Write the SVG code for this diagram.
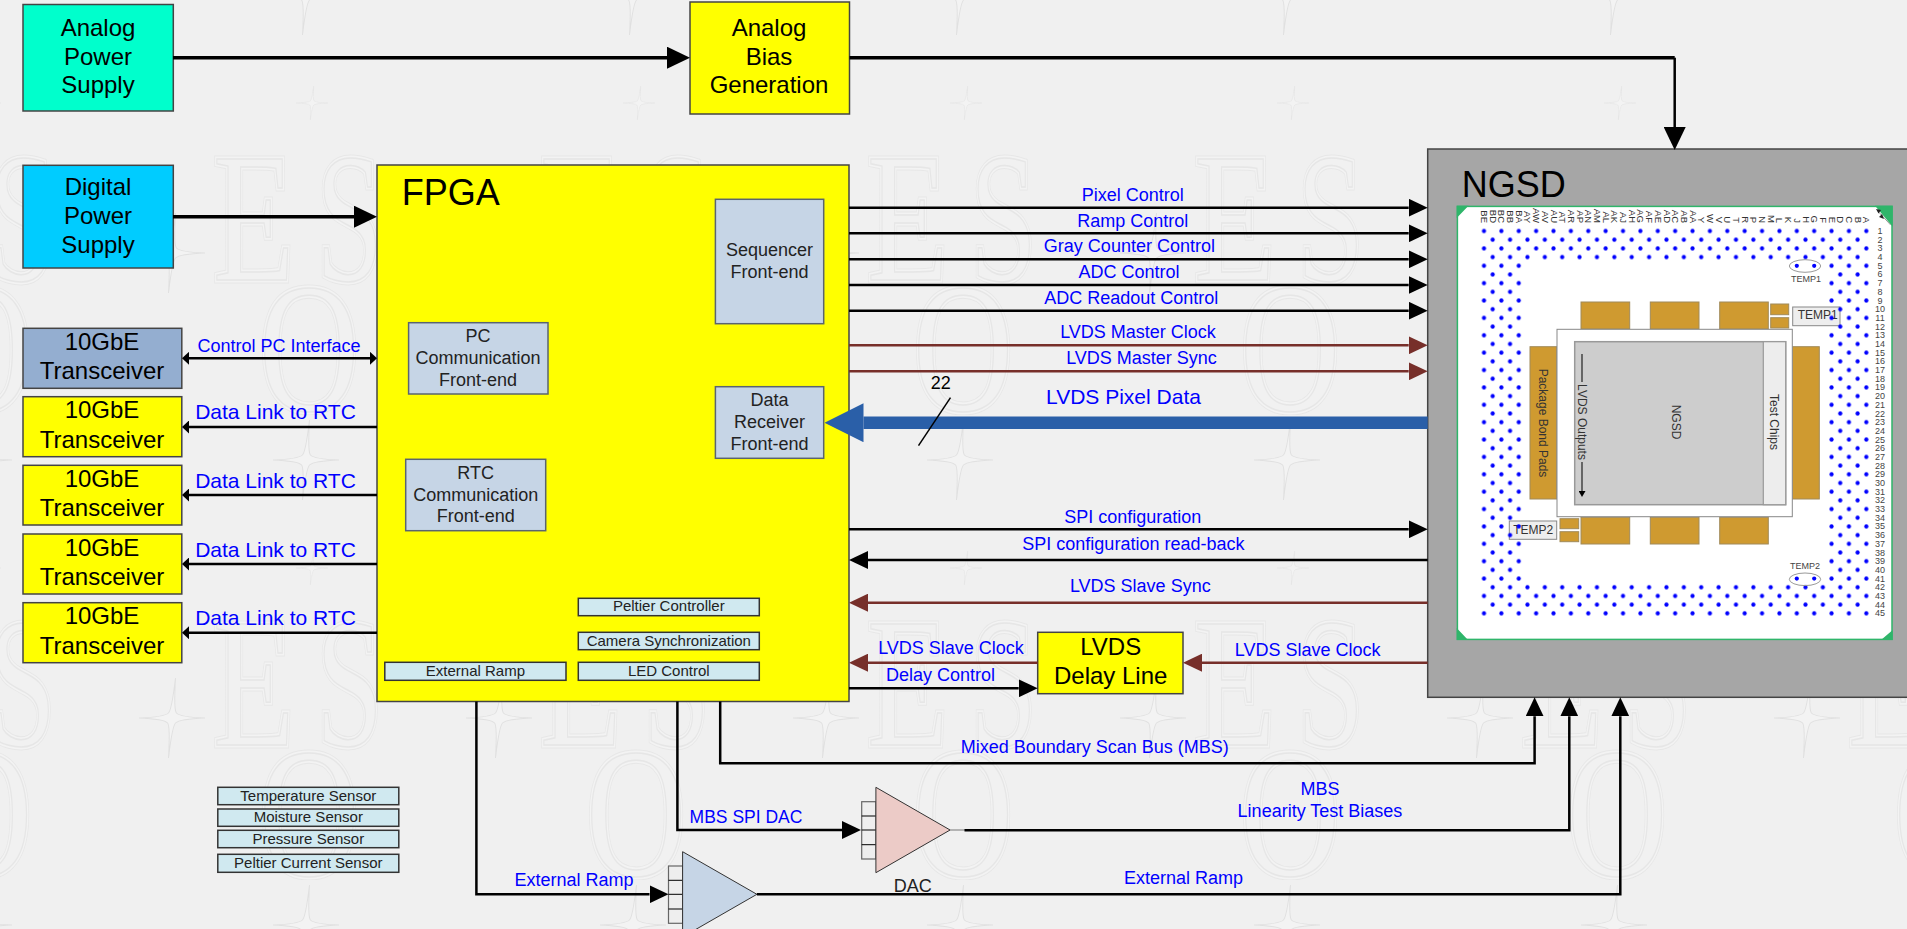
<svg xmlns="http://www.w3.org/2000/svg" width="1907" height="929" viewBox="0 0 1907 929">
<style>
text{font-family:"Liberation Sans",Arial,sans-serif;text-anchor:middle;fill:#000}
.t24{font-size:24px}.t18{font-size:18px;fill:#222}.t15{font-size:15px;fill:#222}.t36{font-size:36px;text-anchor:start}
.lb{font-size:18px;fill:#0000ff}.l21{font-size:21px;fill:#0000ff}
.box{stroke:#444;stroke-width:1.5}
.fe{fill:#c6d5e6;stroke:#5a6470;stroke-width:1.5}
.sm{fill:#d0e9f0;stroke:#333;stroke-width:1.5}
.c{fill:none;stroke:#000;stroke-width:2.5}
.p{fill:none;stroke:#000;stroke-width:3.5}
.br{fill:none;stroke:#772f2a;stroke-width:2.5}
.pad{fill:#cf9a30;stroke:#a08a5a;stroke-width:1}
.pl{font-size:9.5px;fill:#333;text-anchor:end}
.rn{font-size:9px;fill:#444}
.ch{font-size:12px;fill:#333}
.tmp{fill:#eee;stroke:#888;stroke-width:1}
.st{fill:#eee;stroke:#666;stroke-width:1.2}
.wmt{font-family:"Liberation Serif",serif;font-size:185px;text-anchor:start;fill:inherit}
</style>
<defs>
<marker id="ah" markerUnits="userSpaceOnUse" markerWidth="19" markerHeight="18" refX="0" refY="9" orient="auto-start-reverse"><path d="M0 0L19 9L0 18Z" fill="#000"/></marker>
<marker id="ahb" markerUnits="userSpaceOnUse" markerWidth="19" markerHeight="18" refX="0" refY="9" orient="auto-start-reverse"><path d="M0 0L19 9L0 18Z" fill="#772f2a"/></marker>
<marker id="ahs" markerUnits="userSpaceOnUse" markerWidth="7" markerHeight="13" refX="0" refY="6.5" orient="auto-start-reverse"><path d="M0 0L7 6.5L0 13Z" fill="#000"/></marker>
<marker id="ahl" markerUnits="userSpaceOnUse" markerWidth="23" markerHeight="22" refX="0" refY="11" orient="auto-start-reverse"><path d="M0 0L23 11L0 22Z" fill="#000"/></marker>
<marker id="ahx" markerUnits="userSpaceOnUse" markerWidth="39" markerHeight="39" refX="0" refY="19.5" orient="auto-start-reverse"><path d="M0 0L39 19.5L0 39Z" fill="#2a5fa8"/></marker>
<marker id="aht" markerUnits="userSpaceOnUse" markerWidth="6" markerHeight="7" refX="0" refY="3.5" orient="auto-start-reverse"><path d="M0 0L6 3.5L0 7Z" fill="#000"/></marker>
<g id="wmt">
<text class="wmt" transform="translate(213 280) scale(.72 1)">E</text>
<text class="wmt" transform="translate(316 280) scale(.65 1)">S</text>
<text class="wmt" transform="translate(259 410) scale(.75 1)">O</text>
</g>
<path id="star" d="M0-40Q1-8 4-5Q8-1 33 0Q8 1 4 5Q1 8 0 40Q-1 8-4 5Q-8 1-33 0Q-8-1-4-5Q-1-8 0-40Z"/>
<pattern id="wm" patternUnits="userSpaceOnUse" x="130" y="-50" width="327" height="465">
<g transform="translate(-130 50)">
<g fill="none" stroke="#e7e7e7" stroke-width="7"><use href="#wmt"/></g>
<g fill="none" stroke="#f3f3f3" stroke-width="5"><use href="#wmt"/></g>
<g fill="#f1f1f1" stroke="#e6e6e6" stroke-width="1.5"><use href="#wmt"/></g>
<g fill="#f3f3f3" stroke="#e0e0e0" stroke-width="1">
<use href="#star" transform="translate(306 -5) skewX(-5)"/>
<use href="#star" transform="translate(172 253) skewX(-5)"/>
<use href="#star" transform="translate(312 103) scale(.48 .42) skewX(-5)"/>
</g>
</g>
</pattern>
<pattern id="dots" patternUnits="userSpaceOnUse" x="1479.655" y="226.656" width="17.378" height="17.378">
<circle cx="4.344" cy="4.344" r="2.1" fill="#0000ff"/>
<circle cx="13.033" cy="13.033" r="2.1" fill="#0000ff"/>
</pattern>
</defs>

<rect width="1907" height="929" fill="#f0f0f0"/>
<rect id="watermark" width="1907" height="929" fill="url(#wm)"/>

<g id="analog-power-supply">
<rect class="box" x="23" y="4.5" width="150.3" height="106.5" fill="#00ffcc"/>
<text class="t24" x="98" y="36">Analog</text><text class="t24" x="98" y="64.7">Power</text><text class="t24" x="98" y="93.3">Supply</text>
</g>
<g id="digital-power-supply">
<rect class="box" x="23" y="165.3" width="150.3" height="102.7" fill="#00ccff"/>
<text class="t24" x="98" y="195">Digital</text><text class="t24" x="98" y="224">Power</text><text class="t24" x="98" y="253">Supply</text>
</g>
<g id="analog-bias-generation">
<rect class="box" x="690" y="2" width="159.5" height="112" fill="#ffff00"/>
<text class="t24" x="769" y="36">Analog</text><text class="t24" x="769" y="64.7">Bias</text><text class="t24" x="769" y="93.3">Generation</text>
</g>

<g id="fpga">
<rect class="box" x="377" y="165" width="472" height="536.5" fill="#ffff00"/>
<text class="t36" x="401.7" y="205">FPGA</text>
</g>
<g id="sequencer-front-end">
<rect class="fe" x="715.4" y="199.3" width="108.3" height="124.4"/>
<text class="t18" x="769.5" y="256">Sequencer</text><text class="t18" x="769.5" y="277.7">Front-end</text>
</g>
<g id="data-receiver-front-end">
<rect class="fe" x="715.4" y="386.7" width="108.3" height="71.6"/>
<text class="t18" x="769.5" y="406">Data</text><text class="t18" x="769.5" y="428.3">Receiver</text><text class="t18" x="769.5" y="450">Front-end</text>
</g>
<g id="pc-communication-front-end">
<rect class="fe" x="408.6" y="322.7" width="139.4" height="71.3"/>
<text class="t18" x="478" y="342">PC</text><text class="t18" x="478" y="364">Communication</text><text class="t18" x="478" y="386">Front-end</text>
</g>
<g id="rtc-communication-front-end">
<rect class="fe" x="405.7" y="459.3" width="140" height="71.4"/>
<text class="t18" x="475.7" y="479.3">RTC</text><text class="t18" x="475.7" y="501.3">Communication</text><text class="t18" x="475.7" y="522">Front-end</text>
</g>
<g id="peltier-controller"><rect class="sm" x="578.3" y="598.3" width="181" height="17.4"/><text class="t15" x="668.8" y="610.5">Peltier Controller</text></g>
<g id="camera-synchronization"><rect class="sm" x="578.3" y="632.3" width="181" height="17.4"/><text class="t15" x="668.8" y="645.5">Camera Synchronization</text></g>
<g id="led-control"><rect class="sm" x="578.3" y="662.3" width="181" height="18"/><text class="t15" x="668.8" y="675.5">LED Control</text></g>
<g id="external-ramp-block"><rect class="sm" x="384.8" y="662.3" width="181.2" height="18"/><text class="t15" x="475.4" y="675.5">External Ramp</text></g>

<g id="transceiver-control"><rect class="box" x="23" y="328.3" width="158.8" height="60" fill="#94aed0"/><text class="t24" x="102" y="350">10GbE</text><text class="t24" x="102" y="379">Transceiver</text></g>
<g id="transceiver-1"><rect class="box" x="23" y="396.7" width="158.8" height="60" fill="#ffff00"/><text class="t24" x="102" y="418.3">10GbE</text><text class="t24" x="102" y="447.5">Transceiver</text></g>
<g id="transceiver-2"><rect class="box" x="23" y="465.3" width="158.8" height="59.7" fill="#ffff00"/><text class="t24" x="102" y="486.7">10GbE</text><text class="t24" x="102" y="516">Transceiver</text></g>
<g id="transceiver-3"><rect class="box" x="23" y="534" width="158.8" height="60" fill="#ffff00"/><text class="t24" x="102" y="556">10GbE</text><text class="t24" x="102" y="585">Transceiver</text></g>
<g id="transceiver-4"><rect class="box" x="23" y="602.7" width="158.8" height="60" fill="#ffff00"/><text class="t24" x="102" y="624.3">10GbE</text><text class="t24" x="102" y="653.5">Transceiver</text></g>

<g id="temperature-sensor"><rect class="sm" x="217.8" y="787.3" width="181" height="17.4"/><text class="t15" x="308.3" y="800.7">Temperature Sensor</text></g>
<g id="moisture-sensor"><rect class="sm" x="217.8" y="809" width="181" height="17.3"/><text class="t15" x="308.3" y="822">Moisture Sensor</text></g>
<g id="pressure-sensor"><rect class="sm" x="217.8" y="830.3" width="181" height="17.4"/><text class="t15" x="308.3" y="843.7">Pressure Sensor</text></g>
<g id="peltier-current-sensor"><rect class="sm" x="217.8" y="854.3" width="181" height="18"/><text class="t15" x="308.3" y="868">Peltier Current Sensor</text></g>

<g id="lvds-delay-line">
<rect class="box" x="1037.7" y="632.3" width="145.3" height="61.4" fill="#ffff00"/>
<text class="t24" x="1110.7" y="655.3">LVDS</text><text class="t24" x="1110.7" y="684">Delay Line</text>
</g>

<g id="dac">
<rect class="st" x="861.7" y="801.7" width="14.2" height="57.3"/>
<path d="M861.7 816H875.9M861.7 830H875.9M861.7 844.7H875.9" stroke="#000" stroke-width="1" fill="none"/>
<path d="M875.9 787.3V872.7L950.1 830Z" fill="#eccbc7" stroke="#333" stroke-width="1"/>
<text class="t18" x="912.8" y="892.3">DAC</text>
</g>
<g id="ramp-dac">
<rect class="st" x="668.5" y="866" width="14.1" height="57.3"/>
<path d="M668.5 880.3H682.6M668.5 894.3H682.6M668.5 909H682.6" stroke="#000" stroke-width="1" fill="none"/>
<path d="M682.6 851.7V937L756.9 894.3Z" fill="#c6d5e6" stroke="#333" stroke-width="1"/>
</g>

<g id="ngsd">
<rect x="1427.7" y="149" width="490" height="548.3" fill="#a6a6a6" stroke="#444" stroke-width="1.5"/>
<text class="t36" x="1461.7" y="196.7">NGSD</text>
<rect x="1457.4" y="206.4" width="434.6" height="433" fill="#fff" stroke="#2fb56a" stroke-width="1.5"/>
<path d="M1456.7 205.7H1468.5L1456.7 218ZM1875 205.7H1892.7V226.7ZM1456.7 640V628L1468 640ZM1892.7 640H1881L1892.7 630Z" fill="#2fb56a"/>
<path d="M1878.3 211.7L1890.7 225" stroke="#999" stroke-width="1" fill="none"/>
<path d="M1876 209L1881 210L1878.5 213.5ZM1884 219L1879 217L1882 214Z" fill="#222"/>
<g id="package">
<rect class="pad" x="1581" y="302" width="48.7" height="27"/><rect class="pad" x="1650.3" y="302" width="48.7" height="27"/><rect class="pad" x="1719.7" y="302" width="48.6" height="27"/>
<rect class="pad" x="1770.7" y="304" width="18" height="10.7"/><rect class="pad" x="1770.7" y="317.7" width="18" height="10.3"/>
<rect class="pad" x="1581" y="517.3" width="48.7" height="26.7"/><rect class="pad" x="1650.3" y="517.3" width="48.7" height="26.7"/><rect class="pad" x="1719.7" y="517.3" width="48.6" height="26.7"/>
<rect class="pad" x="1560" y="518.7" width="18.7" height="10"/><rect class="pad" x="1560" y="531.7" width="18.7" height="10"/>
<rect class="pad" x="1530" y="346.7" width="26.7" height="152.3"/><rect class="pad" x="1792.3" y="346.7" width="27" height="152.3"/>
<rect x="1557" y="329.3" width="235.3" height="187.4" fill="#fff" stroke="#888" stroke-width="1"/>
<rect x="1574.7" y="341.7" width="211" height="163" fill="#cdcdcd" stroke="#999" stroke-width="1.5"/>
<rect x="1763.3" y="341.7" width="22.4" height="163" fill="#ededed" stroke="#999" stroke-width="1.2"/>
<path d="M1582 382V354M1582 462V491" fill="none" stroke="#222" stroke-width="1.2" marker-end="url(#aht)"/>
<text class="ch" transform="translate(1539 423) rotate(90)">Package Bond Pads</text>
<text class="ch" transform="translate(1578 422) rotate(90)">LVDS Outputs</text>
<text class="ch" transform="translate(1672 422) rotate(90)">NGSD</text>
<text class="ch" transform="translate(1770 422) rotate(90)">Test Chips</text>
<rect class="tmp" x="1792.7" y="307" width="47.3" height="18.7"/><text class="ch" x="1817.7" y="319">TEMP1</text>
<rect class="tmp" x="1509.3" y="521" width="47.4" height="18.3"/><text class="ch" x="1533.3" y="534">TEMP2</text>
</g>
<g id="balls" fill="url(#dots)">
<rect x="1479.655" y="226.656" width="391" height="34.756"/>
<rect x="1479.655" y="261.412" width="43.4" height="321.5"/>
<rect x="1827.2" y="261.412" width="43.455" height="321.5"/>
<rect x="1479.655" y="582.912" width="391" height="34.8"/>
<g fill="#0000ff"><circle cx="1796.8" cy="265.8" r="2.1"/><circle cx="1814.2" cy="265.8" r="2.1"/><circle cx="1796.8" cy="578.6" r="2.1"/><circle cx="1814.2" cy="578.6" r="2.1"/></g>
</g>
<ellipse cx="1805" cy="266" rx="15.7" ry="6.3" fill="none" stroke="#999" stroke-width="1"/>
<ellipse cx="1805" cy="579.3" rx="15.7" ry="6.3" fill="none" stroke="#999" stroke-width="1"/>
<text class="rn" x="1806" y="282.3">TEMP1</text>
<text class="rn" x="1805" y="569">TEMP2</text>
<g id="col-labels">
<text class="pl" transform="translate(1481 223) rotate(90)">BE</text><text class="pl" transform="translate(1489.7 223) rotate(90)">BD</text><text class="pl" transform="translate(1498.4 223) rotate(90)">BC</text><text class="pl" transform="translate(1507.1 223) rotate(90)">BB</text><text class="pl" transform="translate(1515.8 223) rotate(90)">BA</text>
<text class="pl" transform="translate(1524.4 223) rotate(90)">AY</text><text class="pl" transform="translate(1533.1 223) rotate(90)">AW</text><text class="pl" transform="translate(1541.8 223) rotate(90)">AV</text><text class="pl" transform="translate(1550.5 223) rotate(90)">AU</text><text class="pl" transform="translate(1559.2 223) rotate(90)">AT</text>
<text class="pl" transform="translate(1567.9 223) rotate(90)">AR</text><text class="pl" transform="translate(1576.6 223) rotate(90)">AP</text><text class="pl" transform="translate(1585.3 223) rotate(90)">AN</text><text class="pl" transform="translate(1594 223) rotate(90)">AM</text><text class="pl" transform="translate(1602.6 223) rotate(90)">AL</text>
<text class="pl" transform="translate(1611.3 223) rotate(90)">AK</text><text class="pl" transform="translate(1620 223) rotate(90)">AJ</text><text class="pl" transform="translate(1628.7 223) rotate(90)">AH</text><text class="pl" transform="translate(1637.4 223) rotate(90)">AG</text><text class="pl" transform="translate(1646.1 223) rotate(90)">AF</text>
<text class="pl" transform="translate(1654.8 223) rotate(90)">AE</text><text class="pl" transform="translate(1663.5 223) rotate(90)">AD</text><text class="pl" transform="translate(1672.2 223) rotate(90)">AC</text><text class="pl" transform="translate(1680.8 223) rotate(90)">AB</text><text class="pl" transform="translate(1689.5 223) rotate(90)">AA</text>
<text class="pl" transform="translate(1698.2 223) rotate(90)">Y</text><text class="pl" transform="translate(1706.9 223) rotate(90)">W</text><text class="pl" transform="translate(1715.6 223) rotate(90)">V</text><text class="pl" transform="translate(1724.3 223) rotate(90)">U</text><text class="pl" transform="translate(1733 223) rotate(90)">T</text>
<text class="pl" transform="translate(1741.7 223) rotate(90)">R</text><text class="pl" transform="translate(1750.4 223) rotate(90)">P</text><text class="pl" transform="translate(1759 223) rotate(90)">N</text><text class="pl" transform="translate(1767.7 223) rotate(90)">M</text><text class="pl" transform="translate(1776.4 223) rotate(90)">L</text>
<text class="pl" transform="translate(1785.1 223) rotate(90)">K</text><text class="pl" transform="translate(1793.8 223) rotate(90)">J</text><text class="pl" transform="translate(1802.5 223) rotate(90)">H</text><text class="pl" transform="translate(1811.2 223) rotate(90)">G</text><text class="pl" transform="translate(1819.9 223) rotate(90)">F</text>
<text class="pl" transform="translate(1828.6 223) rotate(90)">E</text><text class="pl" transform="translate(1837.2 223) rotate(90)">D</text><text class="pl" transform="translate(1845.9 223) rotate(90)">C</text><text class="pl" transform="translate(1854.6 223) rotate(90)">B</text><text class="pl" transform="translate(1863.3 223) rotate(90)">A</text>
</g>
<g id="row-labels">
<text class="rn" x="1880" y="234">1</text><text class="rn" x="1880" y="242.7">2</text><text class="rn" x="1880" y="251.4">3</text><text class="rn" x="1880" y="260.1">4</text><text class="rn" x="1880" y="268.8">5</text><text class="rn" x="1880" y="277.4">6</text><text class="rn" x="1880" y="286.1">7</text><text class="rn" x="1880" y="294.8">8</text><text class="rn" x="1880" y="303.5">9</text>
<text class="rn" x="1880" y="312.2">10</text><text class="rn" x="1880" y="320.9">11</text><text class="rn" x="1880" y="329.6">12</text><text class="rn" x="1880" y="338.3">13</text><text class="rn" x="1880" y="347">14</text><text class="rn" x="1880" y="355.6">15</text><text class="rn" x="1880" y="364.3">16</text><text class="rn" x="1880" y="373">17</text><text class="rn" x="1880" y="381.7">18</text>
<text class="rn" x="1880" y="390.4">19</text><text class="rn" x="1880" y="399.1">20</text><text class="rn" x="1880" y="407.8">21</text><text class="rn" x="1880" y="416.5">22</text><text class="rn" x="1880" y="425.2">23</text><text class="rn" x="1880" y="433.8">24</text><text class="rn" x="1880" y="442.5">25</text><text class="rn" x="1880" y="451.2">26</text><text class="rn" x="1880" y="459.9">27</text>
<text class="rn" x="1880" y="468.6">28</text><text class="rn" x="1880" y="477.3">29</text><text class="rn" x="1880" y="486">30</text><text class="rn" x="1880" y="494.7">31</text><text class="rn" x="1880" y="503.4">32</text><text class="rn" x="1880" y="512">33</text><text class="rn" x="1880" y="520.7">34</text><text class="rn" x="1880" y="529.4">35</text><text class="rn" x="1880" y="538.1">36</text>
<text class="rn" x="1880" y="546.8">37</text><text class="rn" x="1880" y="555.5">38</text><text class="rn" x="1880" y="564.2">39</text><text class="rn" x="1880" y="572.9">40</text><text class="rn" x="1880" y="581.6">41</text><text class="rn" x="1880" y="590.2">42</text><text class="rn" x="1880" y="598.9">43</text><text class="rn" x="1880" y="607.6">44</text><text class="rn" x="1880" y="616.3">45</text>
</g>
</g>

<g id="connectors">
<path class="p" d="M173 57.7H667" marker-end="url(#ahl)"/>
<path class="p" d="M849.5 57.7H1674.7"/>
<path class="c" d="M1674.7 57.7V127" marker-end="url(#ahl)"/>
<path class="p" d="M173 216.7H354" marker-end="url(#ahl)"/>
<path class="c" d="M189 358.3H370" marker-start="url(#ahs)" marker-end="url(#ahs)"/>
<path class="c" d="M377 427H189" marker-end="url(#ahs)"/>
<path class="c" d="M377 495H189" marker-end="url(#ahs)"/>
<path class="c" d="M377 564H189" marker-end="url(#ahs)"/>
<path class="c" d="M377 632.7H189" marker-end="url(#ahs)"/>
<path class="c" d="M849 207.7H1408.7" marker-end="url(#ah)"/>
<path class="c" d="M849 233.3H1408.7" marker-end="url(#ah)"/>
<path class="c" d="M849 259.3H1408.7" marker-end="url(#ah)"/>
<path class="c" d="M849 285H1408.7" marker-end="url(#ah)"/>
<path class="c" d="M849 310.7H1408.7" marker-end="url(#ah)"/>
<path class="br" d="M849 345.3H1408.7" marker-end="url(#ahb)"/>
<path class="br" d="M849 371.3H1408.7" marker-end="url(#ahb)"/>
<path d="M1427.7 422.7H863.5" fill="none" stroke="#2a5fa8" stroke-width="12.6" marker-end="url(#ahx)"/>
<path d="M918.5 445.7L950.5 397.7" fill="none" stroke="#000" stroke-width="1.5"/>
<path class="c" d="M849 529.3H1408.7" marker-end="url(#ah)"/>
<path class="c" d="M1427.7 560H868" marker-end="url(#ah)"/>
<path class="br" d="M1427.7 602.7H868" marker-end="url(#ahb)"/>
<path class="br" d="M1037.7 662.7H868" marker-end="url(#ahb)"/>
<path class="br" d="M1427.7 662.7H1202" marker-end="url(#ahb)"/>
<path class="c" d="M849 688.3H1018.7" marker-end="url(#ah)"/>
<path class="c" d="M720.2 701.5V763.3H1534.6V716.3" marker-end="url(#ah)"/>
<path class="c" d="M677.4 701.5V830H842" marker-end="url(#ah)"/>
<path class="c" d="M476.4 701.5V894.3H649.5" marker-end="url(#ah)"/>
<path d="M950.1 830H965" fill="none" stroke="#777" stroke-width="1"/>
<path class="c" d="M964.5 830.3H1569.3V716.3" marker-end="url(#ah)"/>
<path class="c" d="M756.9 894.2H1620.3V716.3" marker-end="url(#ah)"/>
</g>

<g id="connector-labels">
<text class="lb" x="279" y="351.7">Control PC Interface</text>
<text class="l21" x="275.5" y="419">Data Link to RTC</text>
<text class="l21" x="275.5" y="488">Data Link to RTC</text>
<text class="l21" x="275.5" y="557">Data Link to RTC</text>
<text class="l21" x="275.5" y="625">Data Link to RTC</text>
<text class="lb" x="1132.7" y="201">Pixel Control</text>
<text class="lb" x="1132.7" y="226.7">Ramp Control</text>
<text class="lb" x="1129.4" y="252">Gray Counter Control</text>
<text class="lb" x="1128.9" y="277.7">ADC Control</text>
<text class="lb" x="1131.3" y="304">ADC Readout Control</text>
<text class="lb" x="1138" y="337.7">LVDS Master Clock</text>
<text class="lb" x="1141.5" y="363.7">LVDS Master Sync</text>
<text class="l21" x="1123.5" y="404">LVDS Pixel Data</text>
<text class="t18" x="940.8" y="389" style="fill:#000">22</text>
<text class="lb" x="1132.7" y="522.7">SPI configuration</text>
<text class="lb" x="1133.4" y="550.3">SPI configuration read-back</text>
<text class="lb" x="1140.3" y="591.7">LVDS Slave Sync</text>
<text class="lb" x="951" y="654">LVDS Slave Clock</text>
<text class="lb" x="1307.7" y="655.7">LVDS Slave Clock</text>
<text class="lb" x="940.6" y="680.7">Delay Control</text>
<text class="lb" x="1094.8" y="753">Mixed Boundary Scan Bus (MBS)</text>
<text class="lb" x="746" y="822.7" style="font-size:17.5px">MBS SPI DAC</text>
<text class="lb" x="1320" y="794.7">MBS</text>
<text class="lb" x="1320" y="816.7">Linearity Test Biases</text>
<text class="lb" x="574" y="885.7">External Ramp</text>
<text class="lb" x="1183.5" y="884">External Ramp</text>
</g>
</svg>
